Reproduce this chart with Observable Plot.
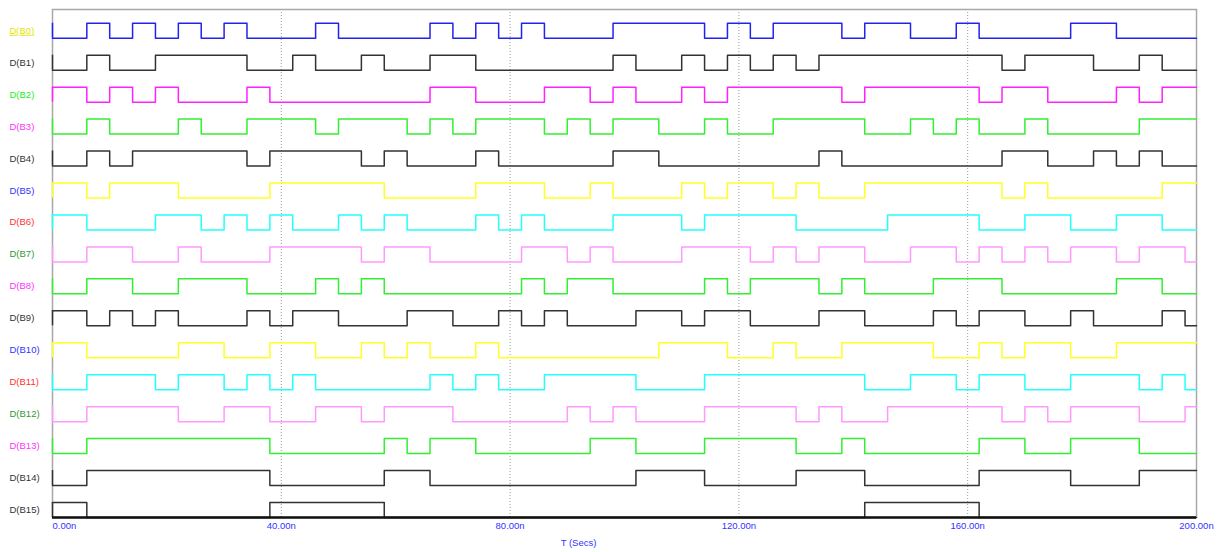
<!DOCTYPE html>
<html><head><meta charset="utf-8">
<script src="https://cdn.jsdelivr.net/npm/d3@7"></script>
<script src="https://cdn.jsdelivr.net/npm/@observablehq/plot@0.6"></script>
<style>
body{margin:0;background:#fff;}
#chart svg{font-family:"Liberation Sans",Arial,sans-serif;}
</style>
</head><body><div id="chart"></div>
<script>
const names = ["D(B0)","D(B1)","D(B2)","D(B3)","D(B4)","D(B5)","D(B6)","D(B7)","D(B8)","D(B9)","D(B10)","D(B11)","D(B12)","D(B13)","D(B14)","D(B15)"];
const traceColors = ["#2222ee","#333333","#ff22ff","#33ee33","#333333","#ffff22","#22ffff","#ff99ff","#33ee33","#333333","#ffff22","#22ffff","#ff99ff","#33ee33","#333333","#333333"];
const labelColors = ["#e6e600","#333333","#22ee22","#ff33ff","#333333","#3333ff","#ff3333","#339933","#ff33ff","#333333","#3333ff","#ff3333","#339933","#ff33ff","#333333","#333333"];
const times = [0,6,10,14,18,22,26,30,34,38,42,46,50,54,58,62,66,70,74,78,82,86,90,94,98,102,106,110,114,118,122,126,130,134,138,142,146,150,154,158,162,166,170,174,178,182,186,190,194,198];
const endTime = 200;
const xGrid = [40,80,120,160];
const xTicks = [0,40,80,120,160,200];
const tickLabels = ["0.00n","40.00n","80.00n","120.00n","160.00n","200.00n"];
const xTitle = "T (Secs)";

const B0  = [0,1,0,1,0,1,0,1,0,0, 0,1,0,0,0,0,1,0,1,0, 1,0,0,0,1,1,1,1,0,1, 0,1,1,1,0,1,1,0,0,1, 0,0,0,0,1,1,0,0,0,0];
const B1  = [0,1,0,0,1,1,1,1,0,0, 1,0,0,1,0,0,1,1,0,0, 0,0,0,0,1,0,0,1,0,1, 0,1,0,1,1,1,1,1,1,1, 1,0,1,1,1,0,0,1,0,0];
const B2  = [1,0,1,0,1,0,0,0,1,0, 0,0,0,0,0,0,1,1,0,0, 0,1,1,0,1,0,0,1,0,1, 1,1,1,1,0,1,1,1,1,1, 0,1,1,0,0,0,1,0,1,1];
const B3  = [0,1,0,0,0,1,0,0,1,1, 1,0,1,1,1,0,1,0,1,1, 1,0,1,0,1,1,0,0,1,0, 0,1,1,1,1,0,0,1,0,1, 0,0,1,0,0,0,0,1,1,1];
const B4  = [0,1,0,1,1,1,1,1,0,1, 1,1,1,0,1,0,0,0,1,0, 0,0,0,0,1,1,0,0,0,0, 0,0,0,1,0,0,0,0,0,0, 0,1,1,0,0,1,0,1,0,0];
const B5  = [1,0,1,1,1,0,0,0,0,1, 1,1,1,1,0,0,0,0,1,1, 1,0,0,1,0,0,0,1,0,1, 1,0,1,0,0,1,1,1,1,1, 1,0,1,0,0,0,0,0,1,1];
const B6  = [1,0,0,0,1,1,0,1,0,1, 0,0,1,0,1,0,0,0,1,0, 1,0,0,0,1,1,1,0,1,1, 1,1,0,0,0,0,1,1,1,1, 0,0,1,1,0,0,1,1,0,0];
const B7  = [0,1,1,0,0,1,0,0,0,1, 1,1,1,0,1,1,0,0,0,0, 1,1,0,1,0,0,0,1,1,1, 0,1,0,1,1,0,0,1,1,0, 1,0,1,0,1,1,0,1,1,0];
const B8  = [0,1,1,0,0,1,1,1,0,0, 0,1,0,1,0,0,0,0,0,0, 1,0,1,1,0,0,0,0,1,0, 1,1,1,0,1,0,0,0,1,1, 1,0,0,0,0,0,1,1,0,0];
const B9  = [1,0,1,0,1,0,0,0,1,0, 1,1,0,0,0,1,1,0,0,1, 0,1,0,0,0,1,1,0,1,1, 0,0,0,1,1,0,0,0,1,0, 1,1,0,0,1,0,0,0,1,0];
const B10 = [1,0,0,0,0,1,1,0,0,1, 1,0,0,1,0,1,0,0,1,0, 0,0,0,0,0,0,1,1,1,0, 0,1,0,0,1,1,1,1,0,0, 1,0,1,1,0,0,1,1,1,1];
const B11 = [0,1,1,1,0,1,1,0,1,0, 1,0,0,0,0,0,1,0,1,0, 0,1,1,1,1,0,0,0,1,1, 1,1,1,1,1,0,0,1,1,0, 1,1,0,0,1,1,1,0,1,0];
const B12 = [0,1,1,1,1,0,0,1,1,0, 0,1,1,0,1,1,1,0,0,0, 0,0,1,0,1,0,0,0,1,1, 1,1,0,1,0,0,1,1,1,1, 1,0,1,0,1,1,1,0,0,1];
const B13 = [0,1,1,1,1,1,1,1,1,0, 0,0,0,0,1,0,1,1,0,0, 0,0,0,1,1,0,0,0,1,1, 1,1,0,0,1,0,0,0,0,0, 1,1,0,0,1,1,1,0,0,0];
const B14 = [0,1,1,1,1,1,1,1,1,0, 0,0,0,0,1,1,0,0,0,0, 0,0,0,0,0,1,1,1,0,0, 0,0,1,1,1,0,0,0,0,0, 1,1,1,1,0,0,0,1,1,1];
const B15 = [1,0,0,0,0,0,0,0,0,1, 1,1,1,1,0,0,0,0,0,0, 0,0,0,0,0,0,0,0,0,0, 0,0,0,0,0,1,1,1,1,1, 0,0,0,0,0,0,0,0,0,0];

const signals = [B0,B1,B2,B3,B4,B5,B6,B7,B8,B9,B10,B11,B12,B13,B14,B15];
const AMP = 0.47;
const n = signals.length;

const rows = [];
signals.forEach((s, i) => {
  const base = n - 1 - i;
  times.forEach((t, k) => rows.push({sig: i, t, y: base + s[k] * AMP, c: traceColors[i]}));
  rows.push({sig: i, t: endTime, y: base + s[s.length - 1] * AMP, c: traceColors[i]});
});
const idx = d3.range(n);

const chart = Plot.plot({
  width: 1218, height: 552,
  marginLeft: 52, marginRight: 22, marginTop: 9, marginBottom: 35,
  x: {domain: [0, 200], axis: null},
  y: {domain: [0, 15.9], axis: null},
  color: {type: "identity"},
  style: {fontFamily: "Liberation Sans, Arial, sans-serif", background: "#fff"},
  marks: [
    Plot.ruleX(xGrid, {stroke: "#999", strokeWidth: 1, strokeDasharray: "1,2"}),
    Plot.frame({stroke: "#a8a8a8", strokeWidth: 1.5}),
    Plot.ruleX(idx, {x: 0, y1: i => n - 1 - i, y2: i => n - 1 - i + AMP, stroke: i => traceColors[i], strokeWidth: 1.5}),
    Plot.line(rows, {x: "t", y: "y", z: "sig", stroke: "c", curve: "step-after", strokeWidth: 1.5}),
    Plot.ruleY([0], {stroke: "#111", strokeWidth: 2.5}),
    Plot.text(idx, {x: 0, y: i => n - 1 - i + AMP / 2, dx: -43, text: i => names[i], textAnchor: "start", fill: i => labelColors[i], fontSize: 9.5}),
    Plot.text([xTicks[0]], {x: d => d, frameAnchor: "bottom", dy: 11, text: () => tickLabels[0], textAnchor: "start", fill: "#3333ff", fontSize: 9.5}),
    Plot.text(xTicks.slice(1), {x: d => d, frameAnchor: "bottom", dy: 11, text: (d, i) => tickLabels[i + 1], textAnchor: "middle", fill: "#3333ff", fontSize: 9.5}),
    Plot.text([xTitle], {frameAnchor: "bottom", dx: -46, dy: 28, text: d => d, fill: "#3333ff", fontSize: 9.5})
  ]
});
document.getElementById("chart").appendChild(chart);
d3.select(chart).selectAll("text").filter(function(){ return this.textContent === "D(B0)"; }).style("text-decoration", "underline");
</script>
</body></html>
